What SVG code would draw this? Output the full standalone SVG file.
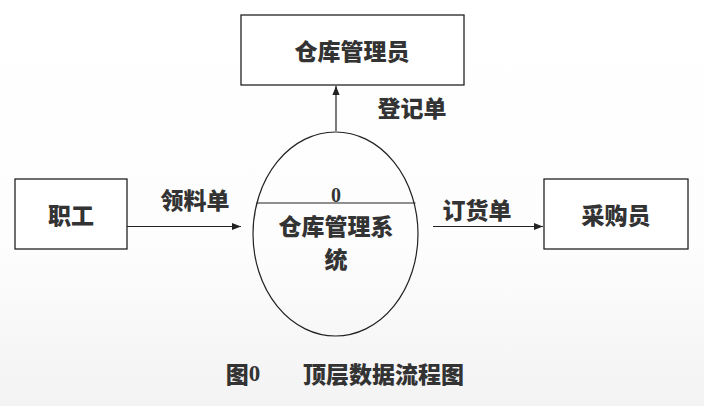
<svg xmlns="http://www.w3.org/2000/svg" width="704" height="406" viewBox="0 0 704 406">
<defs>
<linearGradient id="bg" x1="0" y1="0" x2="0" y2="1">
<stop offset="0" stop-color="#ffffff"/>
<stop offset="0.6" stop-color="#fdfdfd"/>
<stop offset="1" stop-color="#f3f3f3"/>
</linearGradient>
<marker id="arr" viewBox="0 0 10 10" refX="10" refY="5" markerWidth="9" markerHeight="9" markerUnits="userSpaceOnUse" orient="auto">
<path d="M0,1 L10,5 L0,9 Z" fill="#222"/>
</marker>
<style>
.box{fill:#fff;stroke:#222;stroke-width:1.3}
.t{font-family:"Noto Sans CJK SC","Noto Sans",sans-serif;font-weight:900;font-size:23px;fill:#333;text-anchor:middle;dominant-baseline:central}
.n{font-family:"Liberation Serif",serif;font-weight:bold;font-size:20px;fill:#333;text-anchor:middle;dominant-baseline:central}
.c{stroke:#222;stroke-width:1.2;fill:none}
</style>
</defs>
<rect width="704" height="406" fill="url(#bg)"/>
<g id="warehouse-keeper">
<rect class="box" x="241" y="15" width="223" height="70"/>
<text class="t" x="352" y="50">仓库管理员</text>
</g>
<g id="staff">
<rect class="box" x="15" y="179" width="112" height="70"/>
<text class="t" x="71" y="214">职工</text>
</g>
<g id="buyer">
<rect class="box" x="544" y="179" width="144" height="70"/>
<text class="t" x="616" y="214">采购员</text>
</g>
<g id="system">
<ellipse cx="335.5" cy="234" rx="82.5" ry="102" fill="none" stroke="#222" stroke-width="1.2"/>
<line x1="256.5" y1="203" x2="415.5" y2="203" stroke="#222" stroke-width="1.2"/>
<text class="n" x="336" y="195">0</text>
<text class="t" x="336" y="225">仓库管理系</text>
<text class="t" x="336" y="258">统</text>
</g>
<g id="connectors">
<line class="c" x1="336" y1="131" x2="336" y2="86" marker-end="url(#arr)"/>
<line class="c" x1="127" y1="226.5" x2="241" y2="226.5" marker-end="url(#arr)"/>
<line class="c" x1="433" y1="226.5" x2="543" y2="226.5" marker-end="url(#arr)"/>
<text class="t" x="412" y="107">登记单</text>
<text class="t" x="195" y="199">领料单</text>
<text class="t" x="477" y="209">订货单</text>
</g>
<g id="caption">
<text class="t" x="243" y="373">图<tspan font-family="Liberation Serif,serif">0</tspan></text>
<text class="t" x="383.5" y="373">顶层数据流程图</text>
</g>
</svg>
